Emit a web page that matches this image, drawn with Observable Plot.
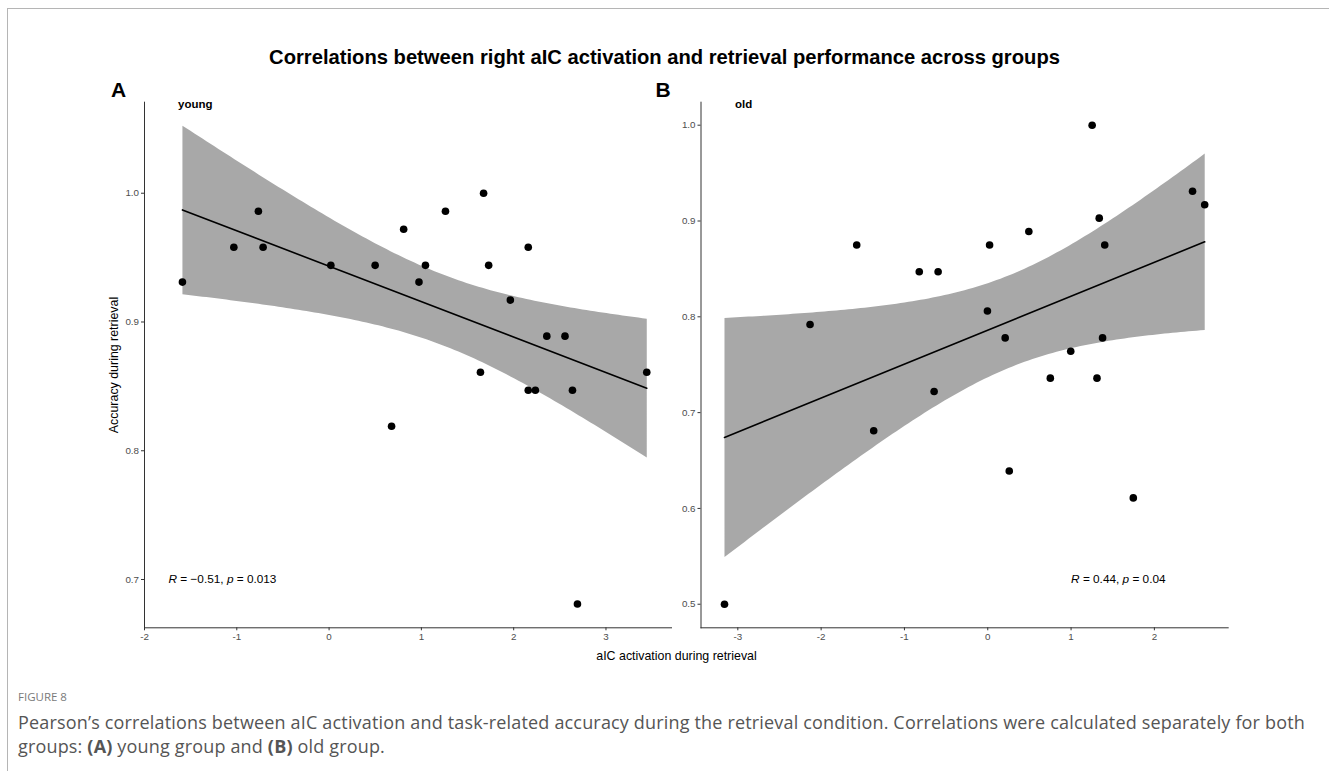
<!DOCTYPE html>
<html>
<head>
<meta charset="utf-8">
<script src="https://cdn.jsdelivr.net/npm/d3@7"></script>
<script src="https://cdn.jsdelivr.net/npm/@observablehq/plot@0.6"></script>
<style>
  body { margin: 0; background: #fff; }
  #root { position: relative; width: 1329px; height: 771px; overflow: hidden; background: #fff;
          font-family: "Liberation Sans", Arial, sans-serif; }
  .t { position: absolute; line-height: 1; white-space: nowrap; }
  .c { transform: translate(-50%, -50%); }
  .l { transform: translate(0, -50%); }
  .cap { position: absolute; font-family: "Open Sans", "Noto Sans", sans-serif; color: #555; white-space: nowrap; }
</style>
</head>
<body>
<div id="root">
  <div style="position:absolute;left:7px;top:8px;right:-5px;bottom:-5px;border-top:1.5px solid #b5b5b5;border-left:1.5px solid #b5b5b5;"></div>
  <div class="t c" id="title" style="left:664.5px;top:57px;font-size:20.2px;font-weight:bold;color:#000;"></div>
  <div class="t c" style="left:118.5px;top:89px;font-size:21px;font-weight:bold;">A</div>
  <div class="t c" style="left:663px;top:89px;font-size:21px;font-weight:bold;">B</div>
  <div class="t l" id="gA" style="left:178px;top:105px;font-size:11.5px;font-weight:bold;"></div>
  <div class="t l" id="gB" style="left:735px;top:105px;font-size:11.5px;font-weight:bold;"></div>
  <div class="t c" id="ylab" style="left:113.5px;top:364.5px;font-size:12.4px;transform:translate(-50%,-50%) rotate(-90deg);"></div>
  <div class="t c" id="xlab" style="left:676.5px;top:656px;font-size:12.4px;"></div>
  <div id="pA" style="position:absolute;left:100px;top:90px;"></div>
  <div id="pB" style="position:absolute;left:650px;top:90px;"></div>
  <div class="cap" id="figlab" style="left:18px;top:689px;font-size:11.5px;color:#7a7a7a;"></div>
  <div class="cap" id="caption" style="left:18px;top:710px;font-size:18px;letter-spacing:0.17px;line-height:24px;"></div>
</div>
<script>
// ---------- data ----------
const chartTitle = "Correlations between right aIC activation and retrieval performance across groups";
const panelLetters = ["A", "B"];
const groupNames = ["young", "old"];
const xAxisTitle = "aIC activation during retrieval";
const yAxisTitle = "Accuracy during retrieval";
const figureLabel = "FIGURE 8";
const captionLines = [
  "Pearson\u2019s correlations between aIC activation and task-related accuracy during the retrieval condition. Correlations were calculated separately for both",
  "groups: <b>(A)</b> young group and <b>(B)</b> old group."
];

// young group: aIC activation (x) and accuracy (y)
const youngX = [-1.589, -1.032, -0.766, -0.715, 0.019, 0.499, 0.808, 0.974, 1.044, 1.261, 1.674, 1.729,
                2.158, 1.964, 2.359, 2.556, 1.640, 3.442, 2.158, 2.235, 2.637, 0.677, 2.691];
const youngY = [0.931, 0.958, 0.986, 0.958, 0.944, 0.944, 0.972, 0.931, 0.944, 0.986, 1.000, 0.944,
                0.958, 0.917, 0.889, 0.889, 0.861, 0.861, 0.847, 0.847, 0.847, 0.819, 0.681];

// old group
const oldX = [1.253, 2.458, 2.604, 1.338, 0.493, -1.573, 0.022, 1.404, -0.822, -0.596, -0.004, -2.133,
              0.209, 1.378, 0.996, 0.751, 1.311, -0.644, -1.369, 0.258, 1.747, -3.160];
const oldY = [1.000, 0.931, 0.917, 0.903, 0.889, 0.875, 0.875, 0.875, 0.847, 0.847, 0.806, 0.792,
              0.778, 0.778, 0.764, 0.736, 0.736, 0.722, 0.681, 0.639, 0.611, 0.500];

// axes
const xDomainA = [-2, 3.71];
const yDomainA = [0.6625, 1.0707];
const xTicksA = [-2, -1, 0, 1, 2, 3];
const yTicksA = [0.7, 0.8, 0.9, 1.0];

const xDomainB = [-3.442, 2.886];
const yDomainB = [0.4754, 1.024];
const xTicksB = [-3, -2, -1, 0, 1, 2];
const yTicksB = [0.5, 0.6, 0.7, 0.8, 0.9, 1.0];

// correlation annotations
const statA = {x: -1.74, y: 0.700, R: "\u22120.51", p: "0.013"};
const statB = {x: 1.00, y: 0.526, R: "0.44", p: "0.04"};

// ---------- text ----------
document.getElementById("title").textContent = chartTitle;
document.getElementById("gA").textContent = groupNames[0];
document.getElementById("gB").textContent = groupNames[1];
document.getElementById("ylab").textContent = yAxisTitle;
document.getElementById("xlab").textContent = xAxisTitle;
document.getElementById("figlab").textContent = figureLabel;
document.getElementById("caption").innerHTML = captionLines.join("<br>");

// ---------- panels ----------
function panel({xs, ys, xDomain, yDomain, xTicks, yTicks, stat, width, height, ml, mr, mt, mb}) {
  const data = xs.map((x, i) => ({x, y: ys[i]}));
  const ann = [{x: stat.x, y: stat.y, label: `R = ${stat.R}, p = ${stat.p}`}];
  const svg = Plot.plot({
    width, height,
    marginLeft: ml, marginRight: mr, marginTop: mt, marginBottom: mb,
    style: {fontFamily: "'Liberation Sans', Arial, sans-serif", fontSize: "9.8px", color: "#4d4d4d",
            background: "transparent", overflow: "visible"},
    x: {domain: xDomain, label: null},
    y: {domain: yDomain, label: null},
    marks: [
      Plot.linearRegressionY(data, {x: "x", y: "y", stroke: "black", strokeWidth: 1.6,
                                    fill: "#a8a8a8", fillOpacity: 1}),
      Plot.dot(data, {x: "x", y: "y", r: 3.8, fill: "black", stroke: "none"}),
      Plot.axisX({ticks: xTicks, tickFormat: d => String(d), tickSize: 3, tickPadding: 2,
                  stroke: "#333", fill: "#4d4d4d", label: null}),
      Plot.axisY({ticks: yTicks, tickFormat: d3.format(".1f"), tickSize: 3, tickPadding: 2.5,
                  stroke: "#333", fill: "#4d4d4d", label: null}),
      Plot.frame({anchor: "left", stroke: "#333", strokeWidth: 1}),
      Plot.frame({anchor: "bottom", stroke: "#333", strokeWidth: 1}),
      Plot.text(ann, {x: "x", y: "y", text: "label", textAnchor: "start", lineAnchor: "middle",
                      fontSize: 11.8, fill: "black"})
    ]
  });
  // italicise R and p in the annotation
  svg.querySelectorAll('g[aria-label="text"] text').forEach(t => {
    t.innerHTML = `<tspan font-style="italic">R</tspan> = ${stat.R}, <tspan font-style="italic">p</tspan> = ${stat.p}`;
  });
  return svg;
}

document.getElementById("pA").appendChild(panel({
  xs: youngX, ys: youngY, xDomain: xDomainA, yDomain: yDomainA, xTicks: xTicksA, yTicks: yTicksA,
  stat: statA, width: 580, height: 570, ml: 44, mr: 9, mt: 11.7, mb: 32.7
}));
document.getElementById("pB").appendChild(panel({
  xs: oldX, ys: oldY, xDomain: xDomainB, yDomain: yDomainB, xTicks: xTicksB, yTicks: yTicksB,
  stat: statB, width: 600, height: 570, ml: 50.5, mr: 22.3, mt: 11.7, mb: 32.7
}));
</script>
</body>
</html>
